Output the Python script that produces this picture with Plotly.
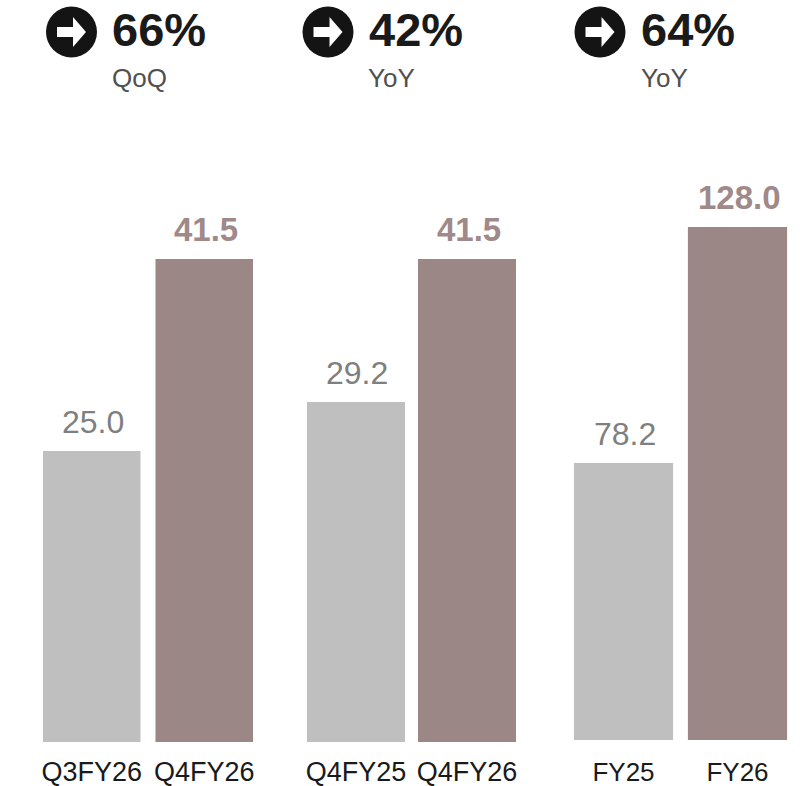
import plotly.graph_objects as go

WIDTH, HEIGHT = 807, 786
FONT = "Liberation Sans"
GREY_BAR, BROWN_BAR = "#bfbfbf", "#9b8785"
GREY_TEXT, BROWN_TEXT = "#7f7f7f", "#9f8a89"

# Revenue comparison values per panel
q_labels = ["Q3FY26", "Q4FY26"]
q_values = [25.0, 41.5]
y_labels = ["Q4FY25", "Q4FY26"]
y_values = [29.2, 41.5]
fy_labels = ["FY25", "FY26"]
fy_values = [78.2, 128.0]

# Growth callouts above each panel
growth_text = ["66%", "42%", "64%"]
growth_basis = ["QoQ", "YoY", "YoY"]

# Panel geometry in pixels plus value-axis limits; the full-year axis starts above zero
panels = [
    dict(labels=q_labels, values=q_values, left=35.5, right=260.5, base=742, top=160,
         ymin=0, ymax=50, tick=6, gap=0.133, size=27),
    dict(labels=y_labels, values=y_values, left=300.5, right=522.5, base=742, top=160,
         ymin=0, ymax=50, tick=6, gap=0.117, size=27),
    dict(labels=fy_labels, values=fy_values, left=566.5, right=794.5, base=740, top=139,
         ymin=19.75, ymax=146.57, tick=9, gap=0.13, size=26),
]
callouts = [(71.5, 159, 139), (328, 416, 391), (600, 688, 664)]


def px(x):
    return x / WIDTH


def py(y):
    return 1 - y / HEIGHT


fig = go.Figure()
axes = {}
annotations = []
shapes = []

for i, p in enumerate(panels, start=1):
    suffix = "" if i == 1 else str(i)
    fig.add_trace(go.Bar(
        x=p["labels"], y=p["values"], width=1 - p["gap"],
        marker=dict(color=[GREY_BAR, BROWN_BAR], line_width=0),
        xaxis=f"x{suffix}", yaxis=f"y{suffix}", showlegend=False,
    ))
    axes[f"xaxis{suffix}"] = dict(
        domain=[px(p["left"]), px(p["right"])], anchor=f"y{suffix}", type="category",
        range=[-0.5, 1.5], showgrid=False, zeroline=False, showline=False, automargin=False,
        ticks="outside", ticklen=p["tick"], tickcolor="rgba(0,0,0,0)",
        tickfont=dict(family=FONT, size=p["size"], color="#1a1a1a"),
    )
    axes[f"yaxis{suffix}"] = dict(
        domain=[py(p["base"]), py(p["top"])], anchor=f"x{suffix}",
        range=[p["ymin"], p["ymax"]], visible=False, automargin=False,
    )
    # Value labels sit above each bar; the later period is bold and brown
    for j, (label, value) in enumerate(zip(p["labels"], p["values"])):
        bold = j == 1
        annotations.append(dict(
            x=label, y=value, xref=f"x{suffix}", yref=f"y{suffix}",
            text=f"<b>{value:.1f}</b>" if bold else f"{value:.1f}",
            showarrow=False, yanchor="bottom", yshift=9, xshift=2 if bold else 1,
            font=dict(family=FONT, size=33 if bold else 32, color=BROWN_TEXT if bold else GREY_TEXT),
        ))

# Arrow badge, percentage and comparison basis above each panel
for (cx, text_x, basis_x), pct, basis in zip(callouts, growth_text, growth_basis):
    r = 25.5
    cy = 32
    shapes.append(dict(
        type="circle", xref="paper", yref="paper",
        x0=px(cx - r), x1=px(cx + r), y0=py(cy + r), y1=py(cy - r),
        fillcolor="#141414", line_width=0,
    ))
    arrow = [(-14.5, -5), (1.5, -5), (1.5, -15), (14.5, 0), (1.5, 15), (1.5, 5), (-14.5, 5)]
    path = "M" + " L".join(f"{px(cx + dx)},{py(cy + dy)}" for dx, dy in arrow) + " Z"
    shapes.append(dict(type="path", xref="paper", yref="paper", path=path, fillcolor="white", line_width=0))
    annotations.append(dict(
        x=px(text_x), y=py(30), xref="paper", yref="paper", text=f"<b>{pct}</b>",
        showarrow=False, xanchor="center", yanchor="middle",
        font=dict(family=FONT, size=47, color="#1a1a1a"),
    ))
    annotations.append(dict(
        x=px(basis_x), y=py(78), xref="paper", yref="paper", text=basis,
        showarrow=False, xanchor="center", yanchor="middle",
        font=dict(family=FONT, size=26, color="#505050"),
    ))

fig.update_layout(
    width=WIDTH, height=HEIGHT, autosize=False,
    margin=dict(l=0, r=0, t=0, b=0),
    paper_bgcolor="white", plot_bgcolor="white",
    annotations=annotations, shapes=shapes,
    **axes,
)
fig.write_html("out.html")
